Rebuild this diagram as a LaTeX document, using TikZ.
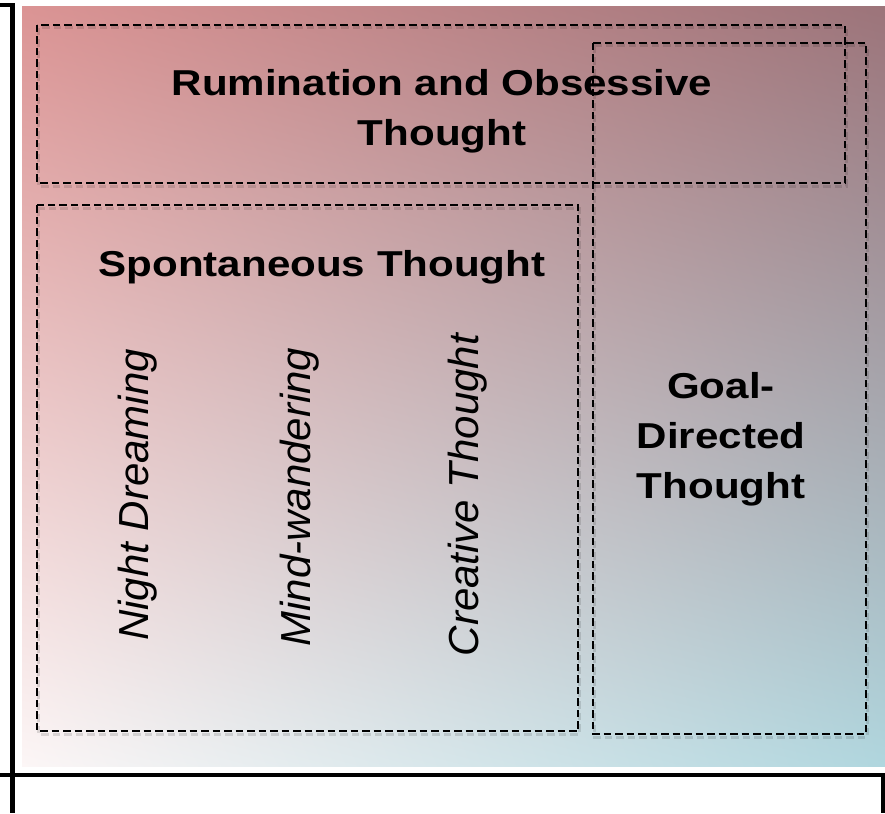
\documentclass[tikz,border=0pt]{standalone}
\usepackage{fontspec}
\usetikzlibrary{shadings}
\setmainfont{Liberation Sans}
\newfontfamily\widesans{Liberation Sans}[FakeStretch=1.17]
\definecolor{rumpink}{RGB}{219,148,148}
\definecolor{rummauve}{RGB}{156,116,122}
\definecolor{spontwhite}{RGB}{252,246,246}
\definecolor{goalblue}{RGB}{176,214,222}

\begin{document}
\begin{tikzpicture}[x=1pt,y=-1pt,
  thoughtbox/.style={draw=black,line width=1.7pt,dash pattern=on 7.5pt off 4pt},
  boxshadow/.style={draw=black,line width=3pt,dash pattern=on 7.5pt off 4pt,opacity=0.12},
  heading/.style={font=\fontsize{36}{50}\selectfont\widesans\bfseries,align=center,inner sep=0pt},
  kind/.style={font=\fontsize{42}{50}\selectfont\itshape,rotate=90,inner sep=0pt},
  frame/.style={line width=4.5pt}]
\useasboundingbox (0,0) rectangle (885,813);

% Background
\shade[upper left=rumpink,upper right=rummauve,lower left=spontwhite,lower right=goalblue]
  (22,7) rectangle (885,766);

% Frame lines
\draw[frame] (0,5) -- (12.5,5) -- (12.5,813);
\draw[frame] (0,775) -- (883,775) -- (883,813);

% Shadows of the boxes
\draw[boxshadow] (38,28) rectangle (846,186);
\draw[boxshadow] (38,208) rectangle (579,734);
\draw[boxshadow] (594,46) rectangle (867,737);

% Boxes
\draw[thoughtbox] (37,25) rectangle (845,183);
\draw[thoughtbox] (37,205) rectangle (578,731);
\draw[thoughtbox] (593,43) rectangle (866,734);

% Headings
\node[heading] (rumination) at (442,111) {Rumination and Obsessive\\Thought};
\node[heading,anchor=base] (spontaneous) at (322,276) {Spontaneous Thought};
\node[heading] (goal) at (721,439) {Goal-\\Directed\\Thought};

% Kinds of spontaneous thought
\node[kind] (night) at (137.5,495) {Night Dreaming};
\node[kind] (mind) at (300,497) {Mind-wandering};
\node[kind] (creative) at (468,495) {Creative Thought};
\end{tikzpicture}
\end{document}
